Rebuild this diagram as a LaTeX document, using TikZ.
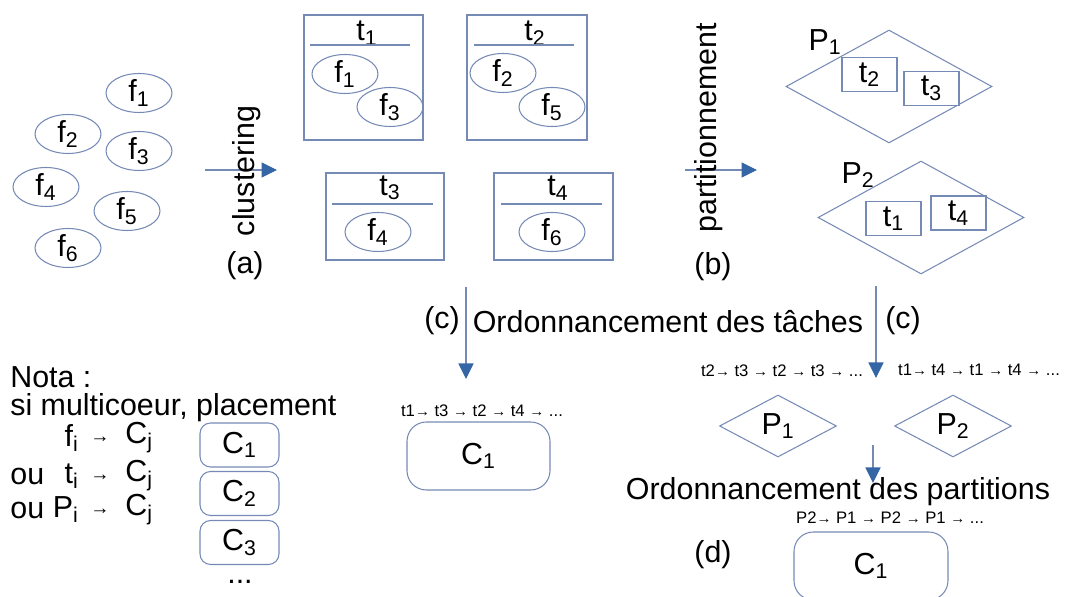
\documentclass[tikz,border=0pt]{standalone}
\usepackage{fontspec}
\setmainfont{Liberation Sans}
\usepackage{tikz}
\usetikzlibrary{shapes}
\usetikzlibrary{arrows.meta}
\definecolor{trait}{RGB}{118,138,182}
\definecolor{bleu}{RGB}{52,101,164}
\newcommand{\ix}[2]{#1\textsubscript{#2}}
\newcommand{\pfl}{{\fontsize{8.5}{9}\selectfont →}}
\newcommand{\gfl}{{\fontsize{11}{12}\selectfont →}}

\begin{document}
\begin{tikzpicture}[x=0.02cm, y=-0.02cm,
  every node/.style={font=\fontsize{17.3}{20}\selectfont, inner sep=0pt},
  petit/.style={font=\fontsize{9.5}{11}\selectfont},
  fich/.style={draw=trait, line width=0.6pt, ellipse, minimum width=1.32cm, minimum height=0.78cm},
  tache/.style={draw=trait, line width=0.6pt, rectangle},
  tpart/.style={draw=trait, line width=0.6pt, fill=white, minimum width=1.1cm, minimum height=0.68cm},
  part/.style={draw=trait, line width=0.6pt, diamond, aspect=1.82, minimum width=4.12cm, minimum height=2.26cm},
  petitpart/.style={draw=trait, line width=0.6pt, diamond, aspect=1.9, minimum width=2.34cm, minimum height=1.24cm},
  coeur/.style={draw=trait, line width=0.6pt, rounded corners=6pt},
  fl/.style={draw=trait, line width=0.6pt, -{Triangle[length=0.31cm, width=0.30cm, color=bleu]}}]
\useasboundingbox (0,0) rectangle (1073,597);

% fonctions
\node[fich] (f1) at (139,93) {\ix{f}{1}};
\node[fich] (f2) at (68,134) {\ix{f}{2}};
\node[fich] (f3) at (139,151) {\ix{f}{3}};
\node[fich] (f4) at (46,187) {\ix{f}{4}};
\node[fich] (f5) at (127,211) {\ix{f}{5}};
\node[fich] (f6) at (68,248) {\ix{f}{6}};

\coordinate (a1) at (205,170);
\coordinate (a2) at (277,170);
\draw[fl] (a1) -- (a2);
\node[rotate=90] (clust) at (247,171) {clustering};
\node (la) at (245,266) {(a)};

% taches
\node[tache, minimum width=2.38cm, minimum height=2.5cm] (T1) at (363.5,77.5) {};
\node (t1) at (367,33) {\ix{t}{1}};
\draw[trait, line width=0.6pt] (310,45) -- (410,45);
\node[fich] (tf1) at (345,74) {\ix{f}{1}};
\node[fich] (tf3) at (390,107) {\ix{f}{3}};

\node[tache, minimum width=2.4cm, minimum height=2.5cm] (T2) at (527,77.5) {};
\node (t2) at (535,33) {\ix{t}{2}};
\draw[trait, line width=0.6pt] (474,45) -- (574,45);
\node[fich] (tf2) at (503,73) {\ix{f}{2}};
\node[fich] (tf5) at (552,107) {\ix{f}{5}};

\node[tache, minimum width=2.36cm, minimum height=1.74cm] (T3) at (385,216.5) {};
\node (t3) at (390,188) {\ix{t}{3}};
\draw[trait, line width=0.6pt] (332,204) -- (433,204);
\node[fich] (tf4) at (378,232) {\ix{f}{4}};

\node[tache, minimum width=2.38cm, minimum height=1.74cm] (T4) at (553.5,216.5) {};
\node (t4) at (558,188) {\ix{t}{4}};
\draw[trait, line width=0.6pt] (501,204) -- (602,204);
\node[fich] (tf6) at (552,232) {\ix{f}{6}};

\coordinate (b1) at (685,170);
\coordinate (b2) at (757,170);
\draw[fl] (b1) -- (b2);
\node[rotate=90] (partit) at (709,128) {partitionnement};
\node (lb) at (713,267) {(b)};

% partitions
\node[part] (P1) at (889,86.5) {};
\node (p1) at (825,42) {\ix{P}{1}};
\node[tpart] (pt2) at (869.5,74.5) {\ix{t}{2}};
\node[tpart] (pt3) at (931.5,88.5) {\ix{t}{3}};

\node[part] (P2) at (921,217.5) {};
\node (p2) at (858,175) {\ix{P}{2}};
\node[tpart] (pt1) at (893.5,218.5) {\ix{t}{1}};
\node[tpart] (pt4) at (958.5,213) {\ix{t}{4}};

% ordonnancement des taches
\coordinate (c1) at (466,287);
\coordinate (c2) at (466,379);
\draw[fl] (c1) -- (c2);
\coordinate (c3) at (876,286);
\coordinate (c4) at (876,378);
\draw[fl] (c3) -- (c4);
\node (lc1) at (442,321) {(c)};
\node (ordt) at (668,322) {Ordonnancement des tâches};
\node (lc2) at (903,321) {(c)};

\node[petit] (seq1) at (482,411) {t1\pfl{} t3 \pfl{} t2 \pfl{} t4 \pfl{} ...};
\node[coeur, rounded corners=11pt, minimum width=2.86cm, minimum height=1.36cm] (C1a) at (478.5,456) {\ix{C}{1}};

\node[petit] (seq2) at (782,371) {t2\pfl{} t3 \pfl{} t2 \pfl{} t3 \pfl{} ...};
\node[petit] (seq3) at (979,370) {t1\pfl{} t4 \pfl{} t1 \pfl{} t4 \pfl{} ...};
\node[petitpart] (Q1) at (778,426) {\ix{P}{1}};
\node[petitpart] (Q2) at (953,426) {\ix{P}{2}};

% ordonnancement des partitions
\coordinate (d1) at (873,445);
\coordinate (d2) at (873,483);
\draw[fl] (d1) -- (d2);
\node (ordp) at (838,492) {Ordonnancement des partitions};
\node[petit] (seq4) at (890,518) {P2\pfl{} P1 \pfl{} P2 \pfl{} P1 \pfl{} ...};
\node (ld) at (713,555) {(d)};
\node[coeur, rounded corners=11pt, minimum width=3.08cm, minimum height=1.36cm] (C1b) at (871,566) {\ix{C}{1}};

% placement
\node[anchor=west] (nota) at (10,377) {Nota :};
\node[anchor=west] (multi) at (10,408) {si multicoeur, placement};
\foreach \y/\a/\b in {438//f, 476/ou/t, 510/ou/P}{
  \node[anchor=west] (ou\y) at (10,\y) {\a};
  \node[anchor=east] (src\y) at (79,\y) {\ix{\b}{i}};
  \node (fl\y) at (100,\y+2) {\gfl};
  \node[anchor=west] (dst\y) at (125,\y) {\ix{C}{j}};
}
\node[coeur, minimum width=1.58cm, minimum height=0.88cm] (C1) at (239.5,445) {\ix{C}{1}};
\node[coeur, minimum width=1.58cm, minimum height=0.88cm] (C2) at (239.5,493.5) {\ix{C}{2}};
\node[coeur, minimum width=1.58cm, minimum height=0.88cm] (C3) at (239.5,542.5) {\ix{C}{3}};
\node (etc) at (240,582) {...};
\end{tikzpicture}
\end{document}
